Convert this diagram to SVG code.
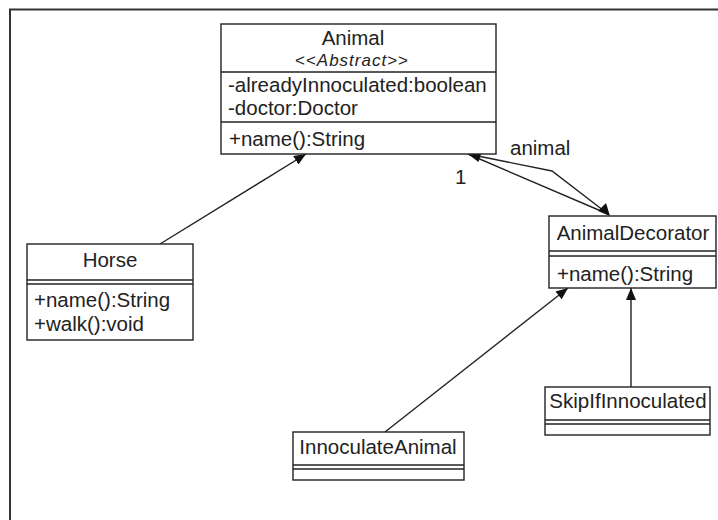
<svg xmlns="http://www.w3.org/2000/svg" width="718" height="520" viewBox="0 0 718 520">
<defs>
<style>
.box{fill:#fff;stroke:#222;stroke-width:1.4}
.ln{stroke:#222;stroke-width:1.4;fill:none}
.t{font-family:"Liberation Sans",Arial,sans-serif;font-size:20.5px;fill:#222}
.c{text-anchor:middle}
.st{font-family:"Liberation Sans",Arial,sans-serif;font-size:17px;letter-spacing:1px;fill:#222}
.ah{fill:#111;stroke:none}
</style>
<marker id="tri" viewBox="0 0 12 10" refX="12" refY="5" markerWidth="12" markerHeight="10" markerUnits="userSpaceOnUse" orient="auto">
<path d="M0,0 L12,5 L0,10 Z" class="ah"/>
</marker>
</defs>
<rect width="718" height="520" fill="#fff"/>
<path d="M10,520 V9.5 H718" fill="none" stroke="#333" stroke-width="2"/>

<g id="connectors">
<line class="ln" x1="160" y1="244" x2="306" y2="154" marker-end="url(#tri)"/>
<line class="ln" x1="385" y1="432" x2="568" y2="288" marker-end="url(#tri)"/>
<line class="ln" x1="631" y1="387" x2="631" y2="288" marker-end="url(#tri)"/>
<polyline class="ln" points="468,154 552,171 608,214"/>
<line class="ln" x1="468" y1="154" x2="608" y2="214"/>
<polygon class="ah" points="468,154 481.5,152.5 478.5,162"/>
<polygon class="ah" points="610,216 598,211 606,203"/>
<text class="t" x="510" y="155">animal</text>
<text class="t" x="455" y="184">1</text>
</g>

<g id="Animal">
<rect class="box" x="221" y="24" width="275" height="130"/>
<text class="t c" x="353" y="45">Animal</text>
<text class="st c" x="352" y="66">&lt;&lt;<tspan font-style="italic">Abstract</tspan>&gt;&gt;</text>
<line class="ln" x1="221" y1="72" x2="496" y2="72"/>
<text class="t" x="228" y="92">-alreadyInnoculated:boolean</text>
<text class="t" x="228" y="115">-doctor:Doctor</text>
<line class="ln" x1="221" y1="122" x2="496" y2="122"/>
<text class="t" x="229" y="146">+name():String</text>
</g>

<g id="Horse">
<rect class="box" x="27" y="244" width="166" height="96"/>
<text class="t c" x="110" y="267">Horse</text>
<line class="ln" x1="27" y1="280" x2="193" y2="280"/>
<line class="ln" x1="27" y1="284" x2="193" y2="284"/>
<text class="t" x="34" y="307">+name():String</text>
<text class="t" x="34" y="331">+walk():void</text>
</g>

<g id="AnimalDecorator">
<rect class="box" x="549" y="216" width="167" height="72"/>
<text class="t c" x="633" y="240">AnimalDecorator</text>
<line class="ln" x1="549" y1="251" x2="716" y2="251"/>
<line class="ln" x1="549" y1="256" x2="716" y2="256"/>
<text class="t" x="557" y="281">+name():String</text>
</g>

<g id="SkipIfInnoculated">
<rect class="box" x="545" y="387" width="165" height="48"/>
<text class="t c" x="628" y="408">SkipIfInnoculated</text>
<line class="ln" x1="545" y1="420" x2="710" y2="420"/>
<line class="ln" x1="545" y1="424" x2="710" y2="424"/>
</g>

<g id="InnoculateAnimal">
<rect class="box" x="293" y="432" width="171" height="48"/>
<text class="t c" x="378" y="454">InnoculateAnimal</text>
<line class="ln" x1="293" y1="465" x2="464" y2="465"/>
<line class="ln" x1="293" y1="469" x2="464" y2="469"/>
</g>
</svg>
